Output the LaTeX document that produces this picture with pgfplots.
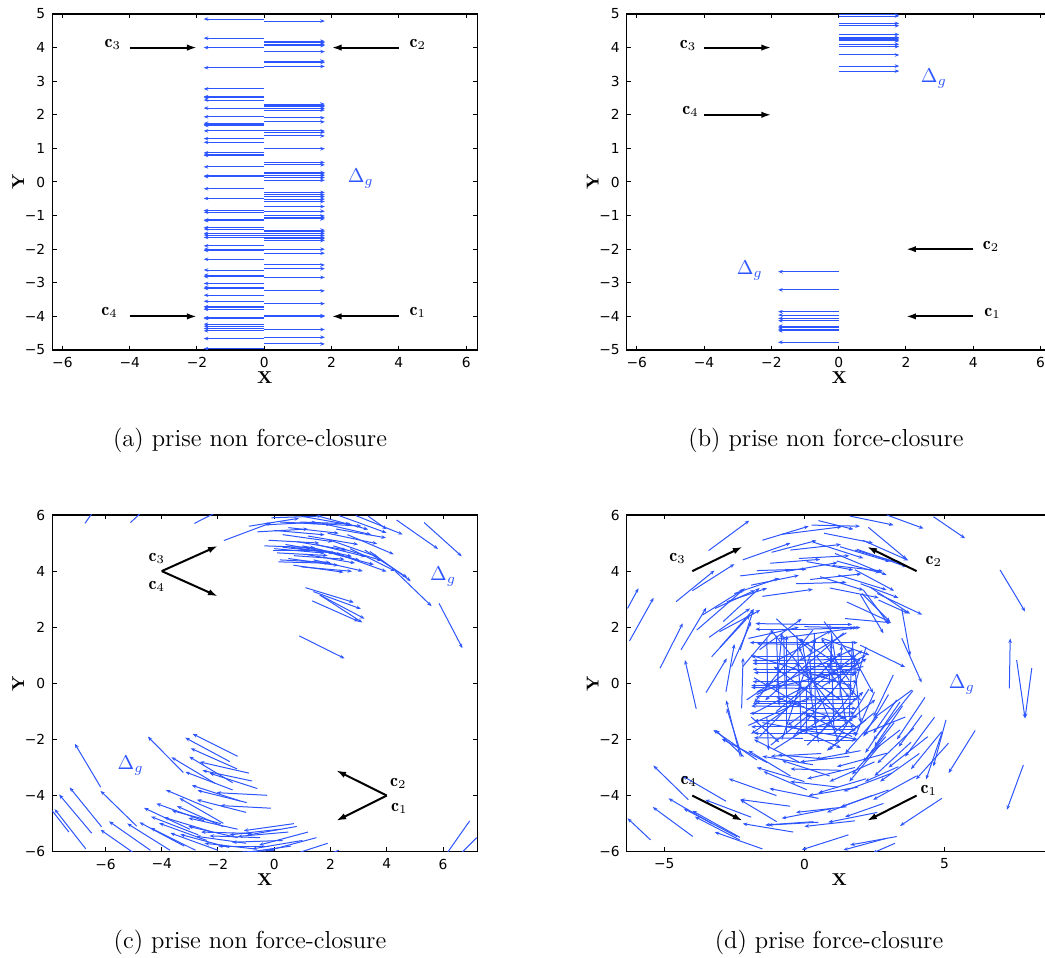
\documentclass[border=0pt]{standalone}
\usepackage{pgfplots}
\pgfplotsset{compat=1.18}
\usepackage{fontspec}
\usetikzlibrary{arrows.meta}
\newfontfamily\tickfontfam{DejaVu Sans}
\definecolor{qblue}{RGB}{45,85,255}
\newcommand{\tickfont}{\tickfontfam\fontsize{6.9}{8}\selectfont}
\newcommand{\labfont}{\fontsize{8.6}{10}\selectfont\bfseries}
\newcommand{\cfont}{\fontsize{9}{10}\selectfont}
\newcommand{\dfont}{\fontsize{10.3}{11}\selectfont}
\newcommand{\capfont}{\fontsize{12.3}{14}\selectfont}
\tikzset{
  cl/.style={font=\cfont, anchor=base west, inner sep=0pt},
  dl/.style={font=\dfont, text=qblue, anchor=base west, inner sep=0pt},
}
\pgfplotsset{
  panel/.style={
    scale only axis, width=212.5pt, height=168pt,
    axis line style={line width=0.6pt},
    tick align=inside, tick pos=both,
    major tick length=2.2pt,
    every tick/.style={black, line width=0.5pt},
    ticklabel style={font=\tickfont},
    xlabel={\labfont X}, ylabel={\labfont Y},
    every axis x label/.style={at={(axis description cs:0.5,-0.082)},anchor=center},
    every axis y label/.style={at={(axis description cs:-0.08,0.5)},anchor=center,rotate=90},
  },
  qv/.style={qblue, line width=0.5pt, -{Stealth[length=2.3pt,width=1.8pt]}, quiver={u=\thisrow{u},v=\thisrow{v}}},
  ca/.style={black, line width=1pt, -{Latex[length=5pt,width=3.2pt]}},
}
\begin{document}
\begin{tikzpicture}
\useasboundingbox (0,0) rectangle (522.5pt,479pt);
% ---------------- (a)
\begin{axis}[panel, at={(26.15pt,304pt)}, anchor=south west,
  xmin=-6.3, xmax=6.33, ymin=-5, ymax=5,
  xtick={-6,-4,-2,0,2,4,6}, xticklabels={−6,−4,−2,0,2,4,6},
  ytick={-5,-4,-3,-2,-1,0,1,2,3,4,5}, yticklabels={−5,−4,−3,−2,−1,0,1,2,3,4,5}]
\addplot[qv] table {
x y u v
0 4.85 -1.8 0
0 4.28 -1.8 0
0 4.00 -1.8 0
0 3.40 -1.8 0
0 2.77 -1.8 0
0 2.54 -1.8 0
0 2.51 -1.8 0
0 2.44 -1.8 0
0 2.20 -1.8 0
0 1.94 -1.8 0
0 1.75 -1.8 0
0 1.71 -1.8 0
0 1.68 -1.8 0
0 1.52 -1.8 0
0 1.29 -1.8 0
0 1.18 -1.8 0
0 0.87 -1.8 0
0 0.83 -1.8 0
0 0.79 -1.8 0
0 0.45 -1.8 0
0 0.18 -1.8 0
0 0.16 -1.8 0
0 -0.20 -1.8 0
0 -0.49 -1.8 0
0 -0.85 -1.8 0
0 -0.90 -1.8 0
0 -1.13 -1.8 0
0 -1.15 -1.8 0
0 -1.36 -1.8 0
0 -1.40 -1.8 0
0 -1.53 -1.8 0
0 -1.58 -1.8 0
0 -1.65 -1.8 0
0 -1.90 -1.8 0
0 -2.00 -1.8 0
0 -2.04 -1.8 0
0 -2.30 -1.8 0
0 -2.62 -1.8 0
0 -2.77 -1.8 0
0 -2.82 -1.8 0
0 -3.02 -1.8 0
0 -3.13 -1.8 0
0 -3.17 -1.8 0
0 -3.37 -1.8 0
0 -3.55 -1.8 0
0 -3.71 -1.8 0
0 -3.75 -1.8 0
0 -3.79 -1.8 0
0 -4.04 -1.8 0
0 -4.06 -1.8 0
0 -4.23 -1.8 0
0 -4.29 -1.8 0
0 -4.36 -1.8 0
0 -4.43 -1.8 0
0 -4.66 -1.8 0
0 -4.96 -1.8 0
0 4.79 1.8 0
0 4.19 1.8 0
0 4.15 1.8 0
0 4.10 1.8 0
0 4.06 1.8 0
0 3.88 1.8 0
0 3.60 1.8 0
0 3.56 1.8 0
0 3.44 1.8 0
0 2.32 1.8 0
0 2.28 1.8 0
0 2.24 1.8 0
0 2.19 1.8 0
0 2.14 1.8 0
0 1.91 1.8 0
0 1.79 1.8 0
0 1.52 1.8 0
0 1.48 1.8 0
0 1.37 1.8 0
0 0.99 1.8 0
0 0.58 1.8 0
0 0.51 1.8 0
0 0.28 1.8 0
0 0.24 1.8 0
0 0.19 1.8 0
0 0.13 1.8 0
0 0.05 1.8 0
0 -0.31 1.8 0
0 -0.38 1.8 0
0 -0.44 1.8 0
0 -0.51 1.8 0
0 -0.58 1.8 0
0 -0.73 1.8 0
0 -0.87 1.8 0
0 -1.01 1.8 0
0 -1.06 1.8 0
0 -1.10 1.8 0
0 -1.43 1.8 0
0 -1.48 1.8 0
0 -1.53 1.8 0
0 -1.59 1.8 0
0 -1.65 1.8 0
0 -1.69 1.8 0
0 -1.74 1.8 0
0 -2.00 1.8 0
0 -2.12 1.8 0
0 -2.47 1.8 0
0 -2.58 1.8 0
0 -2.84 1.8 0
0 -3.24 1.8 0
0 -3.62 1.8 0
0 -3.98 1.8 0
0 -4.00 1.8 0
0 -4.39 1.8 0
0 -4.62 1.8 0
0 -4.82 1.8 0
};
\addplot[ca] coordinates {(-4,4) (-2,4)};
\addplot[ca] coordinates {(4,4) (2,4)};
\addplot[ca] coordinates {(-4,-4) (-2,-4)};
\addplot[ca] coordinates {(4,-4) (2,-4)};
\node[cl] at (axis cs:-4.76,4.0) {$\mathbf{c}_3$};
\node[cl] at (axis cs:4.31,4.0) {$\mathbf{c}_2$};
\node[cl] at (axis cs:-4.85,-3.96) {$\mathbf{c}_4$};
\node[cl] at (axis cs:4.31,-3.96) {$\mathbf{c}_1$};
\node[dl] at (axis cs:2.47,-0.02) {$\Delta_g$};
\end{axis}
% ---------------- (b)
\begin{axis}[panel, overlay, at={(313.35pt,304pt)}, anchor=south west,
  xmin=-6.3, xmax=6.33, ymin=-5, ymax=5,
  xtick={-6,-4,-2,0,2,4,6}, xticklabels={−6,−4,−2,0,2,4,6},
  ytick={-5,-4,-3,-2,-1,0,1,2,3,4,5}, yticklabels={−5,−4,−3,−2,−1,0,1,2,3,4,5}]
\addplot[qv] table {
x y u v
0 4.97 1.8 0
0 4.94 1.8 0
0 4.72 1.8 0
0 4.65 1.8 0
0 4.39 1.8 0
0 4.30 1.8 0
0 4.26 1.8 0
0 4.23 1.8 0
0 4.20 1.8 0
0 4.10 1.8 0
0 4.03 1.8 0
0 3.78 1.8 0
0 3.45 1.8 0
0 3.30 1.8 0
0 -2.67 -1.8 0
0 -3.21 -1.8 0
0 -3.86 -1.8 0
0 -3.96 -1.8 0
0 -4.06 -1.8 0
0 -4.13 -1.8 0
0 -4.29 -1.8 0
0 -4.34 -1.8 0
0 -4.38 -1.8 0
0 -4.43 -1.8 0
0 -4.77 -1.8 0
};
\addplot[ca] coordinates {(-4,4) (-2,4)};
\addplot[ca] coordinates {(-4,2) (-2,2)};
\addplot[ca] coordinates {(4,-2) (2,-2)};
\addplot[ca] coordinates {(4,-4) (2,-4)};
\node[cl] at (axis cs:-4.73,3.98) {$\mathbf{c}_3$};
\node[cl] at (axis cs:-4.66,2.0) {$\mathbf{c}_4$};
\node[cl] at (axis cs:4.27,-2.02) {$\mathbf{c}_2$};
\node[cl] at (axis cs:4.32,-4.0) {$\mathbf{c}_1$};
\node[dl] at (axis cs:2.43,2.97) {$\Delta_g$};
\node[dl] at (axis cs:-3.04,-2.75) {$\Delta_g$};
\end{axis}
% ---------------- (c)
\begin{axis}[panel, at={(26.15pt,53.15pt)}, anchor=south west, height=168.35pt,
  xmin=-7.89, xmax=7.22, ymin=-6, ymax=6,
  xtick={-6,-4,-2,0,2,4,6}, xticklabels={−6,−4,−2,0,2,4,6},
  ytick={-6,-4,-2,0,2,4,6}, yticklabels={−6,−4,−2,0,2,4,6}]
\addplot[qv] table {
x y u v
-6.73 5.70 1.032 1.475
-5.11 5.73 1.316 1.228
-2.84 5.70 1.604 0.817
-1.79 5.09 1.685 0.633
-0.9 5.60 1.778 0.282
-0.3 5.65 1.798 0.094
0.2 5.75 1.798 -0.094
1.3 5.70 1.798 -0.094
0.3 5.30 1.783 -0.251
0.0 5.45 1.793 -0.157
1.0 5.95 1.773 -0.313
1.6 5.95 1.739 -0.466
2.3 5.98 1.691 -0.616
2.2 5.50 1.773 -0.313
1.9 5.35 1.761 -0.374
0.9 5.75 1.799 -0.063
-0.1 5.90 1.799 0.063
2.9 5.98 1.669 -0.674
3.34 5.96 0.66 -0.47
0.5 5.55 1.79 -0.2
-0.6 5.4 1.8 0.1
1.7 5.7 1.75 -0.4
2.6 5.3 1.65 -0.7
0.8 5.05 1.78 -0.3
-0.2 5.1 1.8 -0.1
0.3 4.85 1.79 -0.2
1.4 4.4 1.75 -0.4
2.0 5.1 1.7 -0.6
0.5 4.45 1.78 -0.25
1.2 5.25 1.78 -0.3
2.7 4.8 1.6 -0.8
-0.35 4.90 1.799 -0.063
0.0 4.80 1.793 -0.157
0.1 4.65 1.798 -0.094
-0.05 4.72 1.8 0
0.4 4.95 1.773 -0.313
0.6 4.85 1.783 -0.251
1.0 4.90 1.761 -0.374
1.3 4.85 1.739 -0.466
1.5 4.95 1.747 -0.435
1.8 4.70 1.739 -0.466
2.1 4.90 1.721 -0.526
0.7 4.55 1.796 -0.126
0.2 4.40 1.798 -0.094
1.1 4.60 1.773 -0.313
2.3 4.60 1.691 -0.616
0.15 4.33 1.8 -0.05
0.68 4.21 1.783 -0.251
0.97 4.15 1.793 -0.157
3.22 4.75 1.510 -0.980
3.40 4.70 1.456 -1.058
4.35 5.82 1.475 -1.032
5.33 5.73 1.338 -1.204
4.30 4.00 1.295 -1.250
5.86 2.85 0.831 -1.597
1.11 3.41 1.721 -0.526
1.39 3.27 1.691 -0.616
1.35 2.94 1.644 -0.732
1.62 3.15 1.589 -0.845
1.62 3.15 1.510 -0.980
0.89 1.69 1.611 -0.803
-6.17 -3.70 -0.919 1.548
-3.23 -3.18 -1.264 1.282
-1.58 -2.79 -1.585 0.853
-1.32 -3.05 -1.644 0.732
-0.79 -3.48 -1.761 0.374
-1.48 -3.54 -1.543 0.927
-2.11 -3.56 -1.543 0.927
-1.48 -3.80 -1.680 0.645
-0.25 -3.99 -1.798 0.094
-0.98 -4.25 -1.747 0.435
-1.22 -4.19 -1.712 0.556
-0.12 -4.45 -1.798 0.094
-1.81 -4.99 -1.559 0.900
-1.81 -5.11 -1.644 0.732
-4.89 -5.09 -1.286 1.259
-6.14 -5.11 -1.133 1.399
-6.49 -5.34 -1.157 1.379
-1.3 -2.6 -1.6 0.8
-0.9 -3.2 -1.75 0.4
0.8 -5.10 -1.773 -0.313
0.7 -5.00 -1.783 -0.251
1.2 -5.30 -1.739 -0.466
0.5 -5.30 -1.793 -0.157
-0.5 -5.50 -1.799 0.063
0.3 -5.60 -1.799 -0.063
1.5 -5.50 -1.739 -0.466
-1.0 -5.70 -1.783 0.251
-0.2 -5.80 -1.8 0
0.6 -5.80 -1.783 -0.251
-1.6 -5.85 -1.739 0.466
-2.4 -5.60 -1.691 0.616
-2.2 -5.30 -1.721 0.526
-1.9 -5.00 -1.739 0.466
-2.5 -4.90 -1.691 0.616
-3.0 -5.20 -1.631 0.761
-3.2 -5.80 -1.589 0.845
1.9 -5.70 -1.712 -0.556
2.3 -5.95 -1.691 -0.616
-3.7 -5.95 -1.526 0.954
-4.4 -5.95 -1.475 1.032
-2.0 -5.95 -1.691 0.616
-4.7 -6.25 -1.475 1.032
0.2 -5.2 -1.79 -0.2
-0.8 -5.35 -1.8 0.05
1.0 -5.6 -1.78 -0.3
-1.3 -5.5 -1.75 0.4
-0.7 -5.9 -1.78 0.2
0.0 -5.95 -1.8 -0.1
-2.7 -5.4 -1.68 0.65
-1.0 -4.6 -1.75 0.45
-2.2 -4.5 -1.65 0.7
-0.6 -3.75 -1.7 0.55
-2.8 -5.95 -1.6 0.8
-1.3 -5.2 -1.75 0.4
6.95 -4.90 -1.032 -1.475
7.2 -5.50 -1.273 -1.273
-6.7 -5.9 -1.108 1.418
-7.3 -5.3 -1.108 1.418
};
\addplot[ca] coordinates {(-4,4) (-2,4.9)};
\addplot[ca] coordinates {(-4,4) (-2,3.1)};
\addplot[ca] coordinates {(4,-4) (2.2,-3.1)};
\addplot[ca] coordinates {(4,-4) (2.2,-4.9)};
\node[cl] at (axis cs:-4.48,4.34) {$\mathbf{c}_3$};
\node[cl] at (axis cs:-4.48,3.35) {$\mathbf{c}_4$};
\node[cl] at (axis cs:4.11,-3.68) {$\mathbf{c}_2$};
\node[cl] at (axis cs:4.14,-4.57) {$\mathbf{c}_1$};
\node[dl] at (axis cs:5.53,3.66) {$\Delta_g$};
\node[dl] at (axis cs:-5.58,-3.06) {$\Delta_g$};
\end{axis}
% ---------------- (d)
\begin{axis}[panel, overlay, at={(313.35pt,53.15pt)}, anchor=south west, height=168.35pt,
  xmin=-6.34, xmax=8.82, ymin=-6, ymax=6,
  xtick={-5,0,5}, xticklabels={−5,0,5},
  ytick={-6,-4,-2,0,2,4,6}, yticklabels={−6,−4,−2,0,2,4,6}]
\addplot[qv] table {
x y u v
-3.42 4.73 1.45 1.07
-4.58 2.91 1.37 1.11
-6.31 2.67 0.39 0.72
-6.24 1.51 0.86 1.54
-5.15 0.54 0.81 1.60
-3.86 -0.91 -0.40 1.74
-3.51 -0.33 0.74 1.22
-3.84 1.90 1.72 1.49
-3.63 2.44 1.47 0.91
-3.40 1.64 1.46 1.03
-3.31 0.95 1.37 1.48
-3.03 1.84 1.45 0.77
-3.19 2.67 1.43 0.65
-2.29 3.83 1.78 0.21
-1.70 4.02 1.78 0.05
-1.17 4.67 1.60 0.42
-0.81 5.31 2.14 0.27
-1.22 4.28 1.78 0.14
-2.77 2.91 1.43 0.48
-2.5 3.2 1.6 0.55
-1.9 3.5 1.7 0.35
-4.0 3.3 1.5 0.95
-2.9 2.2 1.3 1.2
-3.0 1.3 1.2 1.35
-2.6 0.6 0.7 1.6
-2.8 -0.3 0.3 1.7
-4.4 1.2 0.9 1.5
-2.2 4.4 1.7 0.6
-1.5 3.1 1.8 0.25
-0.2 4.45 1.8 0.1
0.7 5.35 1.75 -0.35
-1.5 5.1 1.65 0.5
0.9 3.4 1.75 -0.35
0.26 5.64 1.72 -0.04
0.50 5.80 1.25 -0.31
1.63 5.96 1.55 -0.32
2.94 6.00 1.31 -0.48
4.60 5.94 1.13 -0.77
2.28 5.56 1.37 -1.14
1.81 4.75 1.66 -0.48
1.27 4.87 1.78 -0.53
0.32 5.03 1.78 -0.57
1.09 4.63 1.84 -0.77
1.15 4.36 1.55 -0.42
1.21 3.86 1.72 -0.53
1.99 3.17 0.83 -1.39
2.10 3.33 0.89 -1.19
2.64 2.97 1.07 -0.48
3.47 2.67 0.30 -1.69
3.47 1.61 0.71 -1.58
6.98 4.04 0.89 -1.48
0.08 4.34 1.66 -0.30
0.56 3.80 1.55 -0.48
-0.6 4.0 1.78 0.30
-0.3 3.55 1.80 0.05
0.2 3.70 1.83 0.20
2.0 3.55 1.35 -0.50
2.6 3.2 1.6 -0.75
-0.5 4.75 1.80 0.20
1.0 4.2 1.80 -0.20
1.8 4.05 1.40 -0.75
2.08 5.10 1.63 -0.72
1.87 4.78 1.78 -0.63
2.34 3.43 1.43 -0.95
2.05 3.20 1.01 -1.01
1.51 2.90 1.55 -0.71
1.45 2.31 1.65 -0.15
1.99 1.36 1.60 -0.78
7.31 -0.18 0.03 1.78
7.57 0.83 0.30 -2.08
8.11 0.54 -0.24 -1.78
7.81 -2.91 -0.59 -1.60
6.09 -1.68 -0.95 -1.52
5.05 -1.30 -0.45 -1.66
4.64 -1.21 -1.05 -1.40
4.90 -1.72 -1.10 -1.34
4.90 -1.78 -0.56 -1.64
5.14 -2.13 -1.16 -1.29
3.87 -0.26 -1.41 -1.76
3.41 -0.66 -1.24 -1.82
3.83 -0.24 -1.37 -1.01
3.29 -0.59 -0.83 -1.19
3.41 -1.66 -1.07 -0.83
3.17 0.30 -0.71 -1.48
4.19 -1.13 -0.83 -1.13
4.90 -4.10 -1.49 -0.98
2.82 -4.28 -1.37 -0.48
3.29 -5.46 -1.66 -0.30
3.35 -2.97 -1.19 -0.53
3.12 -3.20 -1.72 -0.65
2.94 -2.49 -1.78 -0.48
2.94 -5.52 -1.55 -0.42
1.57 -5.40 -1.66 -0.53
0.32 -4.93 -1.72 -0.12
2.5 -2.8 -1.6 -0.7
2.2 -3.4 -1.7 -0.5
2.7 -2.2 -1.1 -1.3
3.6 -1.2 -1.5 -0.6
1.9 -3.7 -1.75 -0.3
1.5 -4.4 -1.8 -0.2
2.4 -4.0 -1.6 -0.6
3.5 -0.8 -1.0 -1.45
3.2 -1.4 -1.1 -1.4
2.9 -1.9 -1.2 -1.35
3.9 -1.6 -1.3 -1.25
4.4 -1.9 -1.4 -1.1
3.0 -0.4 -0.9 -1.5
2.6 -1.2 -1.15 -1.3
4.1 -2.5 -1.4 -1.0
2.5 -0.3 -0.7 -1.6
3.0 -3.8 -1.7 -0.6
2.6 -4.6 -1.75 -0.35
4.0 -3.3 -1.55 -0.85
3.8 -2.1 -1.3 -1.2
1.8 -4.9 -1.8 -0.2
4.3 -0.5 -1.0 -1.5
3.23 -5.70 -0.8 -0.35
-4.14 -4.15 -1.25 1.22
-3.98 -5.46 -1.43 1.05
-2.30 -5.49 -1.70 0.95
-2.31 -5.58 -1.60 0.83
-1.70 -2.73 -1.55 1.07
-1.34 -2.82 -1.61 0.84
-5.49 -5.58 -0.82 0.77
-2.41 -5.46 -1.9 1.0
-1.90 -4.77 -1.64 0.62
-0.51 -4.38 -1.78 0.24
-2.17 -2.61 -1.01 0.95
-2.23 -2.61 -0.54 1.72
-2.8 -4.2 -1.55 0.9
-1.0 -4.0 -1.7 0.6
-3.3 -5.0 -1.55 0.9
-0.4 -5.3 -1.8 0.3
-1.5 -5.9 -1.7 0.6
0.08 -3.79 -1.54 0.65
1.04 -4.45 -1.85 -0.36
0.5 -4.95 -1.8 -0.1
-0.99 -4.93 -1.30 0.78
0.3 -2.9 -1.8 0.3
0.8 -2.7 -1.75 0.15
1.3 -3.1 -1.8 0.05
0.9 -3.3 -1.7 0.55
1.6 -2.6 -1.75 -0.2
0.0 -3.5 -1.7 0.5
1.8 -3.0 -1.7 -0.4
0.5 -4.1 -1.75 0.35
-0.5 -3.3 -1.5 0.9
1.2 -3.7 -1.7 0.2
2.0 -2.4 -1.6 -0.3
0.6 -2.5 -1.8 -0.1
-0.2 -2.8 -1.6 0.8
2.2 -1.3 -1.4 -1.1
0.05 2.10 -1.8 0.03
-0.05 2.10 1.75 0.0
0.0 2.02 1.9 -0.04
0.1 1.93 -1.85 0.0
0.1 1.93 1.7 0.05
0.0 1.45 -1.95 0.0
0.0 1.45 1.9 0.0
0.1 1.39 -1.8 0.02
-0.1 0.95 -1.8 0.0
-0.1 0.95 1.95 0.0
0.0 0.83 1.9 0.03
0.05 0.83 -1.9 -0.02
0.0 0.71 -1.85 0.0
0.15 0.71 1.85 0.0
-0.05 0.59 1.9 0.02
0.1 0.50 -1.95 0.0
0.1 0.50 1.9 -0.02
-0.05 0.38 -1.75 0.0
-0.05 0.38 1.95 0.0
0.0 0.30 1.85 0.02
0.05 0.06 -1.9 0.0
0.05 0.06 1.85 0.0
-0.1 -0.06 -1.8 -0.02
-0.1 -0.18 1.85 0.0
0.0 -0.18 -1.9 0.03
0.05 -0.48 -1.8 0.0
0.05 -0.48 1.95 0.0
0.0 -0.59 1.9 0.02
0.1 -0.65 -1.85 0.0
-0.05 -0.73 1.8 0.0
-0.05 -0.73 -1.8 0.0
0.0 -0.83 -1.9 0.02
0.1 -0.89 1.75 0.0
-0.1 -1.07 -1.85 0.0
-0.1 -1.07 1.9 0.02
0.05 -1.19 1.85 0.0
0.05 -1.31 -1.85 -0.02
0.05 -1.31 1.7 0.0
0.0 -1.55 -1.9 0.0
0.0 -1.55 1.8 0.02
-0.05 -1.66 1.9 0.0
0.1 -1.78 -1.9 0.0
0.1 -1.78 1.8 0.0
-0.05 -1.96 -1.75 0.02
0.0 -2.02 1.85 0.0
-1.34 1.61 0.02 -1.73
-0.69 -0.2 -0.05 1.9
-0.27 1.72 0.1 -1.8
-0.12 -1.78 -0.05 1.75
0.2 0.85 0.05 -1.45
0.98 1.70 -0.1 -1.75
1.27 -0.5 0.05 1.85
0.08 -0.12 0.0 -1.65
-1.34 -1.19 0.06 -1.2
-2.29 1.19 0.47 1.43
-2.24 -0.89 0.05 1.8
-2.29 -2.61 -0.5 2.0
-1.82 -1.07 1.84 0.95
-1.11 -2.37 1.9 1.2
2.46 -1.07 -1.6 -1.3
0.62 -0.12 1.6 1.0
1.75 0.95 0.7 -1.3
0.62 1.61 1.7 -0.6
0.32 -0.12 1.75 1.3
1.03 -1.78 1.5 1.2
-0.94 0.83 1.9 1.05
0.56 -1.78 1.2 1.5
-0.27 -1.78 1.8 0.6
-2.06 -0.59 1.9 1.3
1.5 1.8 -1.7 -1.0
1.0 -0.3 -1.6 -1.2
-1.6 1.2 1.5 1.1
1.3 0.6 -1.5 1.0
-0.5 -1.5 1.8 -0.8
0.4 1.0 1.2 -1.5
-1.0 -1.0 1.7 1.4
0.9 -1.2 -1.9 0.7
-1.8 0.2 1.7 -1.0
2.0 -0.6 -1.2 1.3
-0.3 0.5 1.6 -1.1
0.7 2.2 1.1 -1.4
1.7 -1.9 -1.8 0.9
-1.2 -2.2 1.4 1.1
-2.0 1.6 1.8 0.4
2.2 1.3 -0.5 -1.7
-1.0 2.3 1.3 -1.2
1.6 0.1 -1.0 1.5
-1.6 -1.9 2.9 3.0
-1.2 1.9 2.6 -3.2
-0.8 -2.0 1.2 3.6
0.5 -2.1 -0.6 3.7
1.4 1.8 -2.8 -2.4
-1.9 1.0 3.6 -1.1
-1.7 -0.4 3.4 1.6
1.9 -1.6 -3.0 2.2
0.9 2.1 0.6 -3.6
-0.4 -1.9 2.4 2.8
2.1 0.6 -3.8 -0.9
-1.5 -1.4 3.4 -0.6
-0.9 1.6 2.9 0.4
1.2 -2.0 -1.4 3.3
-2.0 -1.5 2.2 1.0
0.3 1.9 -2.1 -2.6
-1.0 -0.3 0.2 2.1
1.7 1.5 0.3 -2.9
-1.9 -1.2 1.0 -0.9
0.1 -2.2 2.0 1.9
2.3 -0.2 -1.2 -1.9
-2.2 0.6 1.1 1.3
-0.6 -0.9 -1.3 -0.9
0.6 0.2 1.6 0.8
-0.63 -1.8 0.0 3.5
0.35 1.8 0.05 -3.3
1.05 -1.6 -0.1 3.0
-1.0 1.7 0.1 -2.5
1.6 -1.2 0.1 2.5
};
\addplot[ca] coordinates {(-4,4) (-2.2,4.87)};
\addplot[ca] coordinates {(4,4) (2.23,4.87)};
\addplot[ca] coordinates {(-4,-4) (-2.2,-4.9)};
\addplot[ca] coordinates {(4,-4) (2.23,-4.9)};
\node[cl] at (axis cs:-4.83,4.34) {$\mathbf{c}_3$};
\node[cl] at (axis cs:4.31,4.22) {$\mathbf{c}_2$};
\node[cl] at (axis cs:-4.43,-3.62) {$\mathbf{c}_4$};
\node[cl] at (axis cs:4.13,-3.92) {$\mathbf{c}_1$};
\node[dl] at (axis cs:5.14,-0.18) {$\Delta_g$};
\end{axis}
\node[font=\capfont] at (125pt,259pt) {(a) prise non force-closure};
\node[font=\capfont] at (413pt,259pt) {(b) prise non force-closure};
\node[font=\capfont] at (125pt,8pt) {(c) prise non force-closure};
\node[font=\capfont] at (414.5pt,8pt) {(d) prise force-closure};
\end{tikzpicture}
\end{document}
